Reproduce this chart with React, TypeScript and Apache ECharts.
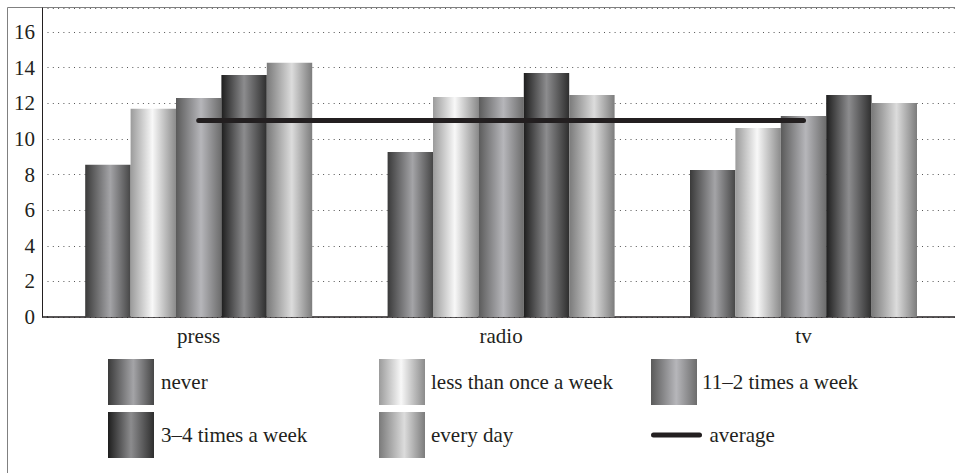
import React, { useEffect, useRef } from 'react';
import * as echarts from 'echarts';

const categories = ['press', 'radio', 'tv'];
const seriesNames = ['never', 'less than once a week', '11–2 times a week', '3–4 times a week', 'every day'];
const neverValues = [8.55, 9.26, 8.25];
const lessThanOnceValues = [11.7, 12.35, 10.61];
const oneTwoValues = [12.3, 12.35, 11.29];
const threeFourValues = [13.59, 13.7, 12.47];
const everyDayValues = [14.28, 12.47, 12.02];
const averageValues = [11.04, 11.04, 11.04];
const averageName = 'average';
const yMin = 0;
const yMax = 17.35;
const yInterval = 2;

const barGradients: string[][] = [
  ['#3a3a3a', '#a4a4a7', '#464646'],
  ['#9b9b9b', '#f8f8f8', '#8b8b8b'],
  ['#5a5a5a', '#b6b6ba', '#6c6c6c'],
  ['#1e1e1e', '#8c8c8e', '#2e2e2e'],
  ['#7a7a7a', '#dcdcdc', '#7c7c7c'],
];
const gradientMid = [0.55, 0.48, 0.55, 0.5, 0.55];

const FONT = "'Liberation Serif', 'DejaVu Serif', serif";
const TEXT = '#231f20';

export default function App() {
  const ref = useRef<HTMLDivElement>(null);
  useEffect(() => {
    if (!ref.current) return;
    const chart = echarts.init(ref.current, null, { renderer: 'svg' });
    const values = [neverValues, lessThanOnceValues, oneTwoValues, threeFourValues, everyDayValues];
    const barSeries = seriesNames.map((name, i) => ({
      name,
      type: 'bar',
      data: values[i],
      barWidth: 45.4,
      barGap: '0%',
      itemStyle: {
        color: new echarts.graphic.LinearGradient(0, 0, 1, 0, [
          { offset: 0, color: barGradients[i][0] },
          { offset: gradientMid[i], color: barGradients[i][1] },
          { offset: 1, color: barGradients[i][2] },
        ]),
      },
      z: 2,
    }));
    const textStyle = { fontFamily: FONT, fontSize: 21, color: TEXT };
    const legendBase = {
      orient: 'vertical',
      top: 359,
      itemWidth: 46,
      itemHeight: 46,
      itemGap: 7,
      padding: 0,
      textStyle,
      selectedMode: false,
    };
    chart.setOption({
      animation: false,
      grid: {
        left: 47.5,
        top: 8,
        width: 907.2,
        height: 309,
        containLabel: false,
        outerBoundsMode: 'none',
      },
      xAxis: {
        type: 'category',
        data: categories,
        axisTick: { show: false },
        axisLine: { lineStyle: { color: TEXT, width: 1.5 } },
        axisLabel: { ...textStyle, margin: 8 },
        splitLine: { show: false },
      },
      yAxis: {
        type: 'value',
        min: yMin,
        max: yMax,
        interval: yInterval,
        offset: 5.5,
        axisLine: { show: true, lineStyle: { color: TEXT, width: 1 } },
        axisTick: { show: false },
        axisLabel: { ...textStyle, margin: 7, showMaxLabel: false },
        splitLine: { lineStyle: { color: '#555', width: 1, type: [1, 4.3] } },
      },
      legend: [
        {
          ...legendBase,
          left: 108,
          data: [
            { name: seriesNames[0], icon: 'rect', textStyle: { padding: [0, 0, 0, 2] } },
            { name: seriesNames[3], icon: 'rect', textStyle: { padding: [0, 0, 0, 2] } },
          ],
        },
        {
          ...legendBase,
          left: 379,
          data: [
            { name: seriesNames[1], icon: 'rect', textStyle: { padding: [0, 0, 0, 1] } },
            { name: seriesNames[4], icon: 'rect', textStyle: { padding: [0, 0, 0, 1] } },
          ],
        },
        {
          ...legendBase,
          left: 651,
          data: [{ name: seriesNames[2], icon: 'rect' }],
        },
        {
          ...legendBase,
          left: 651,
          top: 416.5,
          lineStyle: { width: 5, cap: 'round' },
          data: [
            { name: averageName, itemStyle: { opacity: 0 }, textStyle: { padding: [0, 0, 0, 5] } },
          ],
        },
      ],
      graphic: [
        {
          type: 'rect',
          silent: true,
          shape: { x: 7.5, y: 7.5, width: 1500, height: 1500 },
          style: { fill: 'none', stroke: '#808080', lineWidth: 1 },
          z: -1,
        },
        {
          type: 'line',
          silent: true,
          shape: { x1: 42, y1: 317, x2: 48, y2: 317 },
          style: { stroke: TEXT, lineWidth: 1.5 },
        },
      ],
      series: [
        ...barSeries,
        {
          name: averageName,
          type: 'line',
          data: averageValues,
          symbol: 'none',
          lineStyle: { color: '#231f20', width: 5, cap: 'round' },
          itemStyle: { color: '#231f20' },
          z: 10,
        },
      ],
    });
    return () => chart.dispose();
  }, []);
  return (
    <div
      ref={ref}
      style={{ position: 'fixed', left: 0, top: 0, width: 955, height: 473, background: '#fff' }}
    />
  );
}
